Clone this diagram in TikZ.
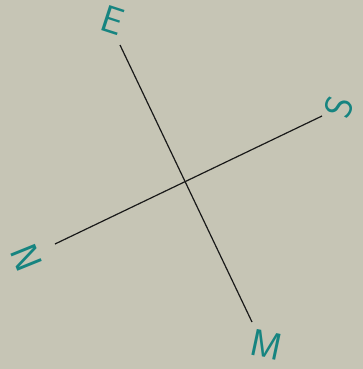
\documentclass[tikz,border=0pt]{standalone}
\definecolor{paper}{RGB}{198,197,181}
\definecolor{ink}{RGB}{22,132,128}
\tikzset{
  dirlabel/.style={text=ink, font=\sffamily\fontsize{38}{38}\selectfont, inner sep=0pt},
  axisline/.style={line width=1.2pt, black!90}
}
\begin{document}
\begin{tikzpicture}[x=1pt,y=-1pt]
\fill[paper] (0,0) rectangle (363,369);
\useasboundingbox (0,0) rectangle (363,369);
\coordinate (top) at (120,45);
\coordinate (bottom) at (252,322);
\coordinate (left) at (55,244);
\coordinate (right) at (322,116);
\draw[axisline] (top) -- (bottom);
\draw[axisline] (left) -- (right);
\node[dirlabel, rotate=-18] (e) at (113,20) {E};
\node[dirlabel, rotate=72] (s) at (339,107) {S};
\node[dirlabel, rotate=112] (n) at (27,258) {N};
\node[dirlabel, rotate=-12] (m) at (266,345) {M};
\end{tikzpicture}
\end{document}
